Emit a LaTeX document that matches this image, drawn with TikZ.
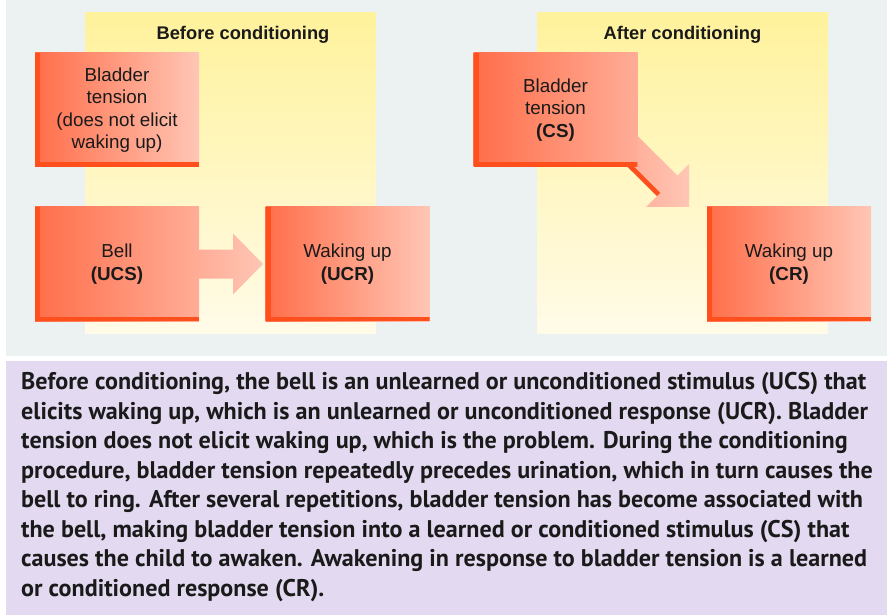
\documentclass[tikz,border=0pt]{standalone}
\usepackage{fontspec}
\setmainfont{Liberation Sans}
\newfontfamily\parafont{PT Sans}
\usetikzlibrary{calc}

\definecolor{panelgrey}{HTML}{ECF1F1}
\definecolor{lavender}{HTML}{E3D9F0}
\definecolor{coltop}{HTML}{FFF29C}
\definecolor{colbot}{HTML}{FFFBE8}
\definecolor{boxdark}{HTML}{FF6E4A}
\definecolor{boxlight}{HTML}{FFC6B5}
\definecolor{boxmid}{HTML}{FFAD97}
\definecolor{edgered}{HTML}{FF4F1C}
\definecolor{inkblack}{HTML}{1A1A1A}

\tikzset{
  card/.style={
    minimum width=164pt, minimum height=114pt, inner sep=0pt, outer sep=0pt,
    align=center, text=inkblack, font=\fontsize{18.8}{22.5}\selectfont,
    left color=boxdark, right color=boxlight,
    path picture={
      \fill[edgered] (path picture bounding box.north west)
        rectangle ([xshift=5pt]path picture bounding box.south west);
      \fill[edgered] ([yshift=4.5pt]path picture bounding box.south west)
        rectangle (path picture bounding box.south east);
    }},
  coltitle/.style={anchor=base, text=inkblack,
    font=\bfseries\fontsize{18.3}{22}\selectfont},
  blockarrow/.style={left color=boxmid, right color=boxlight},
}

\begin{document}
\begin{tikzpicture}[x=1pt, y=-1pt]
  \useasboundingbox (0,0) rectangle (887,615);

  % panels
  \fill[panelgrey] (6,0) rectangle (887,356);
  \fill[lavender] (6,361) rectangle (887,615);

  % yellow columns
  \shade[top color=coltop, bottom color=colbot] (85,13) rectangle (376,333);
  \shade[top color=coltop, bottom color=colbot] (537,13) rectangle (828,333);

  \node[coltitle] (beforetitle) at (243,40) {Before conditioning};
  \node[coltitle] (aftertitle) at (682.5,40) {After conditioning};

  % before conditioning
  \node[card] (bt) at (117,110) {Bladder\\tension\\(does not elicit\\waking up)};
  \node[card, right color=boxmid] (bell) at (117,264) {Bell\\\textbf{(UCS)}};
  \node[card] (ucr) at (347.5,264) {Waking up\\\textbf{(UCR)}};

  \coordinate (tip1) at ($(ucr.west)+(-2.5,0)$);
  \shade[blockarrow]
    ($(bell.east)+(0,-14.5)$) -- ($(tip1)+(-30,-14.5)$) -- ($(tip1)+(-30,-30.5)$)
    -- (tip1) -- ($(tip1)+(-30,30.5)$) -- ($(tip1)+(-30,14.5)$)
    -- ($(bell.east)+(0,14.5)$) -- cycle;

  % after conditioning
  \node[card, right color=boxmid] (cs) at (555.5,110) {Bladder\\tension\\\textbf{(CS)}};
  \node[card] (cr) at (789,264) {Waking up\\\textbf{(CR)}};

  \coordinate (tip2) at ($(cr.north west)+(-18,0)$);
  \shade[blockarrow]
    ($(cs.south east)+(0,-31)$) -- ($(tip2)+(-11.5,-31.5)$) -- ($(tip2)+(0,-43)$)
    -- (tip2) -- ($(tip2)+(-43,0)$) -- ($(tip2)+(-32,-11)$)
    -- ($(cs.south east)+(-9.8,0)$) -- (cs.south east) -- cycle;
  \fill[edgered]
    ($(cs.south east)+(-12,0)$) -- ($(cs.south east)+(-9.8,0)$)
    -- ($(tip2)+(-32,-11)$) -- ($(tip2)+(-28.8,-14.2)$)
    -- ($(cs.south east)+(-7.6,-4.5)$) -- ($(cs.south east)+(-12,-4.5)$) -- cycle;

  % caption
  \node[anchor=north west, inner sep=0pt, align=left, text=inkblack,
        font=\parafont\bfseries\fontsize{24.1}{29.5}\selectfont] (caption) at (21,372.5)
  {Before conditioning, the bell is an unlearned or unconditioned stimulus (UCS) that\\
   elicits waking up, which is an unlearned or unconditioned response (UCR). Bladder\\
   tension does not elicit waking up, which is the problem. During the conditioning\\
   procedure, bladder tension repeatedly precedes urination, which in turn causes the\\
   bell to ring. After several repetitions, bladder tension has become associated with\\
   the bell, making bladder tension into a learned or conditioned stimulus (CS) that\\
   causes the child to awaken. Awakening in response to bladder tension is a learned\\
   or conditioned response (CR).};
\end{tikzpicture}
\end{document}
